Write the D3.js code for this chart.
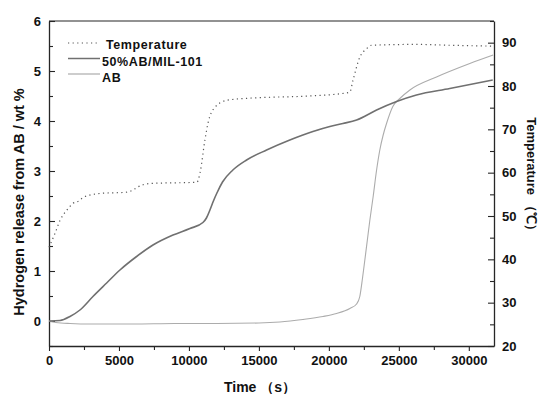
<!DOCTYPE html>
<html>
<head>
<meta charset="utf-8">
<script src="https://cdn.jsdelivr.net/npm/d3@7"></script>
<style>
  html, body { margin: 0; padding: 0; background: #fff; }
  svg { display: block; }
  text { font-family: "Liberation Sans", Arial, sans-serif; font-weight: bold; fill: #111; }
</style>
</head>
<body>
<svg id="chart" width="541" height="394"></svg>
<script>
// ---- data ----
const xTicks = [0, 5000, 10000, 15000, 20000, 25000, 30000];
const leftTicks = [0, 1, 2, 3, 4, 5, 6];
const rightTicks = [20, 30, 40, 50, 60, 70, 80, 90];

const tempTime = [0, 430, 790, 1260, 1710, 2210, 2430, 3640, 5570, 6000, 6290, 7210, 10570, 10790, 11140, 11360, 11860, 12710, 14360, 15790, 17930, 21260, 21500, 21720, 22220, 22690, 23050, 26260, 28640, 31710];
const tempVal  = [42.8, 46, 49, 51.3, 52.9, 53.6, 54.3, 55.2, 55.5, 56.0, 56.6, 57.5, 57.8, 59.9, 67.5, 71.4, 75.1, 76.7, 77.2, 77.4, 77.6, 78.4, 78.6, 81.3, 86.7, 88.6, 89.4, 89.6, 89.4, 89.2];

const milTime = [0, 790, 1500, 2210, 3140, 4120, 5070, 6260, 7430, 8860, 10070, 11000, 11250, 11500, 11750, 12000, 12400, 13140, 14120, 15550, 17210, 18860, 20070, 21000, 21980, 23410, 24840, 26260, 28640, 31710];
const milVal  = [0, 0.01, 0.09, 0.22, 0.49, 0.76, 1.02, 1.29, 1.52, 1.72, 1.85, 1.97, 2.06, 2.22, 2.40, 2.56, 2.78, 3.02, 3.22, 3.42, 3.62, 3.79, 3.89, 3.95, 4.02, 4.22, 4.39, 4.52, 4.65, 4.82];

const abTime = [0, 500, 1500, 3000, 6000, 9000, 12000, 15000, 16500, 18140, 19580, 20550, 21500, 21980, 22210, 22400, 22570, 22750, 22930, 23170, 23400, 23640, 23880, 24120, 24570, 25070, 25790, 27690, 30070, 31740];
const abVal  = [0, -0.03, -0.05, -0.06, -0.06, -0.05, -0.05, -0.04, -0.02, 0.03, 0.09, 0.15, 0.25, 0.34, 0.49, 0.85, 1.22, 1.62, 2.02, 2.5, 3.0, 3.42, 3.72, 3.95, 4.29, 4.45, 4.62, 4.88, 5.15, 5.32];

const legendLabels = ["Temperature", "50%AB/MIL-101", "AB"];

// ---- layout ----
const L = 49, R = 494, T = 21, B = 346;
const svg = d3.select("#chart");

const x = d3.scaleLinear().domain([0, 31800]).range([L, R]);
const yL = d3.scaleLinear().domain([-0.5, 6]).range([B, T]);
const yR = d3.scaleLinear().domain([20, 95]).range([B, T]);

const axisColor = "#262626";

// frame (top line)
svg.append("line").attr("x1", L).attr("x2", R).attr("y1", T).attr("y2", T)
  .attr("stroke", axisColor).attr("stroke-width", 1.2);

// minor ticks
const minorX = d3.range(2500, 31800, 5000);
const minorL = d3.range(-0.5, 6, 1);
const minorR = d3.range(25, 96, 10);

// bottom axis
svg.append("g").attr("transform", `translate(0,${B})`)
  .call(d3.axisBottom(x).tickValues(xTicks).tickSize(5).tickPadding(5).tickSizeOuter(0).tickFormat(d3.format("d")));
svg.append("g").attr("transform", `translate(0,${B})`)
  .call(d3.axisBottom(x).tickValues(minorX).tickSize(4).tickSizeOuter(0).tickFormat(""))
  .select(".domain").remove();

// left axis
svg.append("g").attr("transform", `translate(${L},0)`)
  .call(d3.axisLeft(yL).tickValues(leftTicks).tickSize(-6).tickPadding(8).tickSizeOuter(0).tickFormat(d3.format("d")));
svg.append("g").attr("transform", `translate(${L},0)`)
  .call(d3.axisLeft(yL).tickValues(minorL).tickSize(-4).tickSizeOuter(0).tickFormat(""))
  .select(".domain").remove();

// right axis
svg.append("g").attr("transform", `translate(${R},0)`)
  .call(d3.axisRight(yR).tickValues(rightTicks).tickSize(-6).tickPadding(8).tickSizeOuter(0).tickFormat(d3.format("d")));
svg.append("g").attr("transform", `translate(${R},0)`)
  .call(d3.axisRight(yR).tickValues(minorR).tickSize(-4).tickSizeOuter(0).tickFormat(""))
  .select(".domain").remove();

svg.selectAll(".domain").attr("stroke", axisColor).attr("stroke-width", 1.3);
svg.selectAll(".tick line").attr("stroke", axisColor).attr("stroke-width", 1.1);
svg.selectAll(".tick text").style("font-size", "13px").style("font-family", "'Liberation Sans', Arial, sans-serif")
  .style("font-weight", "bold").attr("fill", "#111");

// ---- lines ----
const tempData = tempTime.map((t, i) => [t, tempVal[i]]);
const milData = milTime.map((t, i) => [t, milVal[i]]);
const abData = abTime.map((t, i) => [t, abVal[i]]);

const lineL = d3.line().x(d => x(d[0])).y(d => yL(d[1])).curve(d3.curveMonotoneX);
const lineR = d3.line().x(d => x(d[0])).y(d => yR(d[1])).curve(d3.curveMonotoneX);

svg.append("path").datum(abData).attr("d", lineL)
  .attr("fill", "none").attr("stroke", "#acacac").attr("stroke-width", 1.1);
svg.append("path").datum(milData).attr("d", lineL)
  .attr("fill", "none").attr("stroke", "#707070").attr("stroke-width", 1.6);
svg.append("path").datum(tempData).attr("d", lineR)
  .attr("fill", "none").attr("stroke", "#555").attr("stroke-width", 1.2)
  .attr("stroke-dasharray", "1.2,3.4");

// ---- legend ----
const legStyles = [
  { stroke: "#555", w: 1.2, dash: "1.2,3.4" },
  { stroke: "#707070", w: 1.5, dash: null },
  { stroke: "#acacac", w: 1.2, dash: null }
];
const legY = [43, 58.5, 74];
const legTextY = [49, 66, 82];
const legTextX = [106, 102, 102];
legendLabels.forEach((lab, i) => {
  svg.append("line").attr("x1", 68).attr("x2", 100).attr("y1", legY[i]).attr("y2", legY[i])
    .attr("stroke", legStyles[i].stroke).attr("stroke-width", legStyles[i].w)
    .attr("stroke-dasharray", legStyles[i].dash);
  svg.append("text").attr("x", legTextX[i]).attr("y", legTextY[i])
    .style("font-size", "12.5px").style("letter-spacing", "0.6px").text(lab);
});

// ---- axis titles ----
svg.append("text").attr("transform", `translate(24,202) rotate(-90)`)
  .attr("text-anchor", "middle").style("font-size", "14.5px").text("Hydrogen release from AB / wt %");
svg.append("text").attr("x", 260).attr("y", 392)
  .attr("text-anchor", "middle").style("font-size", "14px").text("Time （s）");
svg.append("text").attr("transform", `translate(527,177) rotate(90)`)
  .attr("text-anchor", "middle").style("font-size", "13px").text("Temperature （℃）");
</script>
</body>
</html>
